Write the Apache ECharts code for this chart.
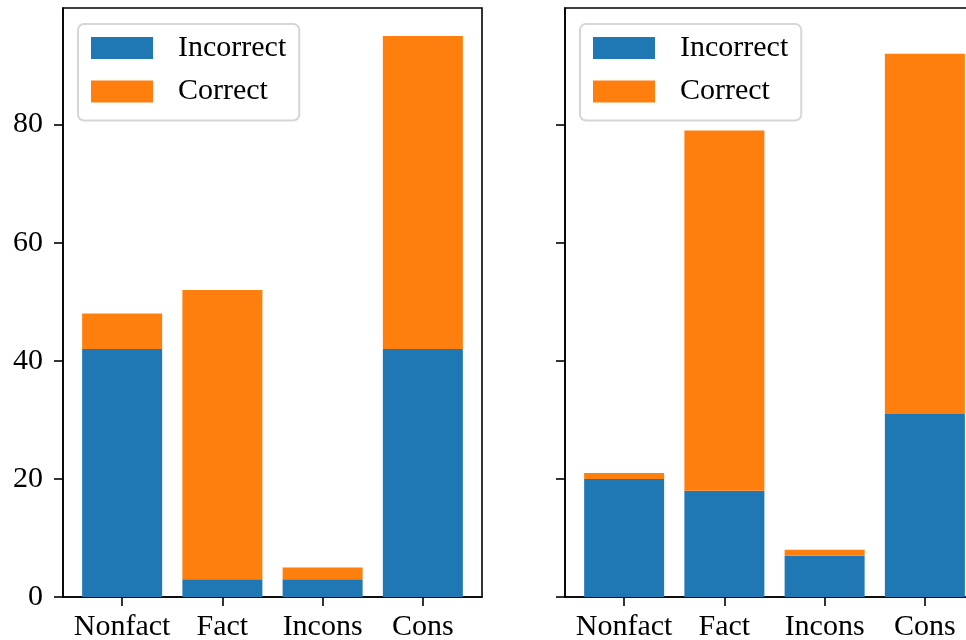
<!DOCTYPE html>
<html>
<head>
<meta charset="utf-8">
<script src="https://cdn.jsdelivr.net/npm/echarts@6/dist/echarts.min.js"></script>
<style>
  html, body { margin: 0; padding: 0; background: #fff; }
  #chart { width: 966px; height: 640px; }
</style>
</head>
<body>
<div id="chart"></div>
<script>
// Categories along the x axis
const categories = ['Nonfact', 'Fact', 'Incons', 'Cons'];

// Left panel counts
const leftIncorrect = [42, 3, 3, 42];
const leftCorrect = [6, 49, 2, 53];

// Right panel counts
const rightIncorrect = [20, 18, 7, 31];
const rightCorrect = [1, 61, 1, 61];

// Y tick labels
const yTicks = [0, 20, 40, 60, 80];

const BLUE = '#1f77b4';
const ORANGE = '#ff7f0e';
const FONT = 'Liberation Serif';
const catIdx = categories.map((_, i) => i);

const yMax = Math.max(...leftIncorrect.map((v, i) => v + leftCorrect[i]),
                      ...rightIncorrect.map((v, i) => v + rightCorrect[i])) * 1.05;
const xPad = 0.4 + 0.05 * (categories.length - 1 + 0.8);

// value first, category index second, so stacking runs along the value column
function pairs(vals) { return vals.map((v, i) => [v, i]); }

function xAxis(gridIndex) {
  return {
    type: 'value', gridIndex, min: -xPad, max: categories.length - 1 + xPad,
    splitLine: { show: false },
    axisLine: { show: true, onZero: false, lineStyle: { color: '#000', width: 1.6 } },
    axisTick: { show: true, customValues: catIdx, length: 9, lineStyle: { color: '#000', width: 1.6 } },
    axisLabel: {
      customValues: catIdx, margin: 15, color: '#000', fontFamily: FONT, fontSize: 30,
      formatter: v => categories[Math.round(v)]
    }
  };
}

function yAxis(gridIndex, showLabels) {
  return {
    type: 'value', gridIndex, min: 0, max: yMax,
    splitLine: { show: false },
    axisLine: { show: true, onZero: false, lineStyle: { color: '#000', width: 1.6 } },
    axisTick: { show: true, customValues: yTicks, length: 9, lineStyle: { color: '#000', width: 1.6 } },
    axisLabel: {
      show: showLabels, customValues: yTicks, margin: 20, color: '#000', fontFamily: FONT, fontSize: 30
    }
  };
}

function legend(left) {
  return {
    orient: 'vertical', left, top: 24,
    icon: 'rect', itemWidth: 62, itemHeight: 22, itemGap: 13.5,
    padding: [9, 13, 14, 13],
    backgroundColor: '#fff', borderColor: '#d6d6d6', borderWidth: 2, borderRadius: 6,
    textStyle: { fontFamily: FONT, fontSize: 30, color: '#000', padding: [0, 0, 0, 20] },
    data: ['Incorrect', 'Correct']
  };
}

function bars(name, vals, stack, xi, color) {
  return {
    type: 'bar', name, stack, xAxisIndex: xi, yAxisIndex: xi,
    data: pairs(vals), encode: { x: 1, y: 0 },
    barWidth: 80, itemStyle: { color }
  };
}

const gridBase = { top: 8, width: 419, height: 589, show: true, borderColor: '#000', borderWidth: 1.6,
                   outerBoundsMode: 'none', containLabel: false };

const chart = echarts.init(document.getElementById('chart'), null, { renderer: 'canvas' });
chart.setOption({
  animation: false,
  backgroundColor: '#fff',
  grid: [
    Object.assign({ left: 63 }, gridBase),
    Object.assign({ left: 565 }, gridBase)
  ],
  legend: [legend(78), legend(580)],
  xAxis: [xAxis(0), xAxis(1)],
  yAxis: [yAxis(0, true), yAxis(1, false)],
  series: [
    bars('Incorrect', leftIncorrect, 'left', 0, BLUE),
    bars('Correct', leftCorrect, 'left', 0, ORANGE),
    bars('Incorrect', rightIncorrect, 'right', 1, BLUE),
    bars('Correct', rightCorrect, 'right', 1, ORANGE)
  ]
});
</script>
</body>
</html>
